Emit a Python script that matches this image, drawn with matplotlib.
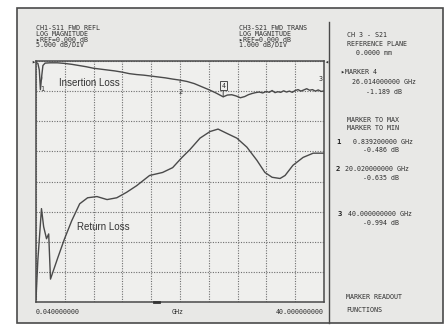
import numpy as np
import matplotlib
matplotlib.use("Agg")
import matplotlib.pyplot as plt
from matplotlib.patches import Rectangle
from matplotlib.lines import Line2D

# ---------------- data ----------------
il_freq = [0.04, 0.3, 0.5, 0.65, 0.839, 1.0, 1.3, 2.0, 3.0, 4.0, 5.0, 6.0, 7.0, 8.0, 9.0,
           10.0, 11.0, 12.0, 13.0, 14.0, 15.0, 16.0, 17.0, 18.0, 19.0, 20.02, 21.0, 22.0,
           23.0, 24.0, 25.0, 26.014, 26.6, 27.2, 27.8, 28.4, 29.0, 29.5, 30.0, 30.5, 31.0,
           31.5, 32.0, 32.4, 32.8, 33.2, 33.6, 34.0, 34.4, 34.8, 35.2, 35.6, 36.0, 36.4,
           36.8, 37.2, 37.6, 38.0, 38.4, 38.8, 39.2, 39.6, 40.0]
il_db = [-0.05, -0.08, -0.3, -0.95, -0.486, -0.15, -0.07, -0.06, -0.06, -0.08, -0.11, -0.15,
         -0.19, -0.24, -0.27, -0.30, -0.33, -0.37, -0.42, -0.45, -0.47, -0.50, -0.53, -0.56,
         -0.60, -0.635, -0.68, -0.75, -0.85, -0.95, -1.06, -1.189, -1.13, -1.12, -1.16, -1.22,
         -1.18, -1.12, -1.08, -1.05, -1.03, -1.06, -1.01, -1.04, -0.98, -1.05, -1.02, -1.04,
         -0.99, -1.03, -1.00, -1.04, -0.98, -0.95, -1.00, -0.96, -0.92, -0.97, -0.95, -1.00,
         -0.96, -1.01, -0.994]

rl_freq = [0.04, 0.3, 0.8, 1.1, 1.5, 1.8, 2.05, 3.05, 4.0, 5.0, 6.1, 7.2, 8.5, 9.9, 11.25,
           12.6, 14.0, 15.8, 17.6, 19.0, 20.3, 21.4, 22.8, 24.2, 25.3, 26.5, 27.9, 29.3,
           30.7, 31.8, 32.8, 33.9, 34.6, 35.7, 37.1, 38.5, 40.0]
rl_db = [-39.5, -33.0, -24.5, -27.5, -29.5, -28.7, -36.2, -32.7, -29.5, -26.5, -23.7, -22.7,
         -22.5, -23.0, -22.7, -21.8, -20.7, -19.0, -18.5, -17.7, -16.0, -14.7, -12.8, -11.7,
         -11.3, -12.0, -12.8, -14.3, -16.5, -18.5, -19.3, -19.5, -19.0, -17.3, -16.0, -15.3,
         -15.3]

marker_ids = ["1", "2", "3", "4"]
marker_freq = [0.8392, 20.02, 40.0, 26.014]
marker_db = [-0.486, -0.635, -0.994, -1.189]

start_label = "0.040000000"
unit_label = "GHz"
stop_label = "40.000000000"

s11_header = ["CH1-S11 FWD REFL", "LOG MAGNITUDE", "\u25b8REF=0.000 dB", "5.000 dB/DIV"]
s21_header = ["CH3-S21 FWD TRANS", "LOG MAGNITUDE", "\u25b8REF=0.000 dB", "1.000 dB/DIV"]

# ---------------- figure ----------------
W, H = 448, 327
fig = plt.figure(figsize=(W / 100, H / 100), dpi=100)
fig.patch.set_facecolor("white")

def fx(x):
    return x / W

def fy(y):
    return 1 - y / H

MONO = ["DejaVu Sans Mono", "DejaVu Sans"]
TXT = "#2e2e2e"
EDGE = "#4a4a4a"
FS = 4.8

# screen background and frames
fig.add_artist(Rectangle((fx(17), fy(323)), fx(443) - fx(17), fy(8) - fy(323),
                         transform=fig.transFigure, facecolor="#e8e8e6",
                         edgecolor=EDGE, lw=1.2, zorder=0))
fig.add_artist(Line2D([fx(329), fx(329)], [fy(22), fy(323)], transform=fig.transFigure,
                      color=EDGE, lw=1.0))

# plot axes
ax = fig.add_axes([fx(36), fy(302), fx(324) - fx(36), fy(61) - fy(302)])
ax.set_facecolor("#efefed")
ax.set_xlim(0.04, 40)
ax.set_ylim(-8, 0)
ax.set_xticks(np.linspace(0.04, 40, 11))
ax.set_yticks(np.arange(-8, 1, 1))
ax.grid(True, color="#6e6e6e", lw=0.8, ls=(0, (1, 1.3)))
for s in ax.spines.values():
    s.set_color(EDGE)
    s.set_linewidth(1.1)

ax.plot(il_freq, il_db, color="#4a4a4a", lw=1.0, zorder=3)

ax2 = ax.twinx()
ax2.set_ylim(-40, 0)
ax2.set_xlim(0.04, 40)
ax2.patch.set_visible(False)
for s in ax2.spines.values():
    s.set_visible(False)
ax2.plot(rl_freq, rl_db, color="#4a4a4a", lw=1.0, zorder=3)

for a in (ax, ax2):
    a.tick_params(which="both", left=False, bottom=False, right=False, top=False,
                  labelright=False, labelleft=False, labelbottom=False, labeltop=False)

# markers
offsets = {"1": (0, -9.8), "2": (0, -8.8), "3": (-1, 8.6), "4": (0, 8.0)}
for mid, f, v in zip(marker_ids, marker_freq, marker_db):
    dx, dy = offsets[mid]
    if mid == "4":
        ax.annotate(mid, xy=(f, v), xytext=(dx, dy), textcoords="offset points",
                    ha="center", va="center", fontsize=FS, family=MONO, color=TXT,
                    bbox=dict(boxstyle="square,pad=0.25", fc="#efefed", ec=EDGE, lw=0.7),
                    arrowprops=dict(arrowstyle="-", color=EDGE, lw=0.7, shrinkA=0, shrinkB=0))
    elif mid == "3":
        ax.annotate(mid, xy=(f, v), xytext=(dx, dy), textcoords="offset points",
                    ha="right", va="center", fontsize=FS, family=MONO, color=TXT,
                    annotation_clip=False)
    else:
        ax.annotate(mid, xy=(f, v), xytext=(dx, dy), textcoords="offset points",
                    ha="center", va="center", fontsize=FS, family=MONO, color=TXT,
                    arrowprops=dict(arrowstyle="-", color=EDGE, lw=0.7, shrinkA=3, shrinkB=1))

# trace labels
fig.text(fx(59), fy(83), "Insertion Loss", fontsize=7.0, family="Liberation Sans",
         color="#333333", va="center", ha="left")
fig.text(fx(77), fy(227), "Return Loss", fontsize=7.0, family="Liberation Sans",
         color="#333333", va="center", ha="left")

# reference pointers and stimulus marker
fig.text(fx(31), fy(61), "\u25b8", fontsize=FS, family=MONO, color=TXT, va="center", ha="left")
fig.text(fx(324), fy(61), "\u25c2", fontsize=FS, family=MONO, color=TXT, va="center", ha="left")
fig.add_artist(Line2D([fx(154), fx(159)], [fy(302), fy(302)], transform=fig.transFigure,
                      color="#333333", lw=2.0))

# headers
for i, s in enumerate(s11_header):
    fig.text(fx(36), fy(27.5 + 6 * i), s, fontsize=FS, family=MONO, color=TXT,
             va="center", ha="left")
for i, s in enumerate(s21_header):
    fig.text(fx(239), fy(27.5 + 6 * i), s, fontsize=FS, family=MONO, color=TXT,
             va="center", ha="left")

# axis annotations
fig.text(fx(36), fy(311.5), start_label, fontsize=FS, family=MONO, color=TXT,
         va="center", ha="left")
fig.text(fx(178), fy(311.5), unit_label, fontsize=FS, family=MONO, color=TXT,
         va="center", ha="center")
fig.text(fx(324), fy(311.5), stop_label, fontsize=FS, family=MONO, color=TXT,
         va="center", ha="right")

# right panel
panel = [
    (347, 35, "CH 3 - S21"),
    (347, 44, "REFERENCE PLANE"),
    (356, 53, "0.0000 mm"),
    (341, 72.5, "\u25b8MARKER 4"),
    (352, 82, "26.014000000 GHz"),
    (366, 92, "-1.189 dB"),
    (347, 120, "MARKER TO MAX"),
    (347, 128.5, "MARKER TO MIN"),
    (353, 141.5, "0.839200000 GHz"),
    (363, 149.5, "-0.486 dB"),
    (345, 169, "20.020000000 GHz"),
    (363, 178, "-0.635 dB"),
    (348, 214, "40.000000000 GHz"),
    (363, 223, "-0.994 dB"),
    (346, 297, "MARKER READOUT"),
    (346, 310, "FUNCTIONS"),
]
for x, y, s in panel:
    fig.text(fx(x), fy(y), s, fontsize=FS, family=MONO, color=TXT, va="center", ha="left")
for x, y, s in [(336, 141.5, "1"), (336, 169, "2"), (338, 214, "3")]:
    fig.text(fx(x), fy(y), s, fontsize=5.2, family=MONO, color="#222222", va="center",
             ha="left", fontweight="bold")

fig.savefig("out.png", dpi=100, facecolor=fig.get_facecolor())
